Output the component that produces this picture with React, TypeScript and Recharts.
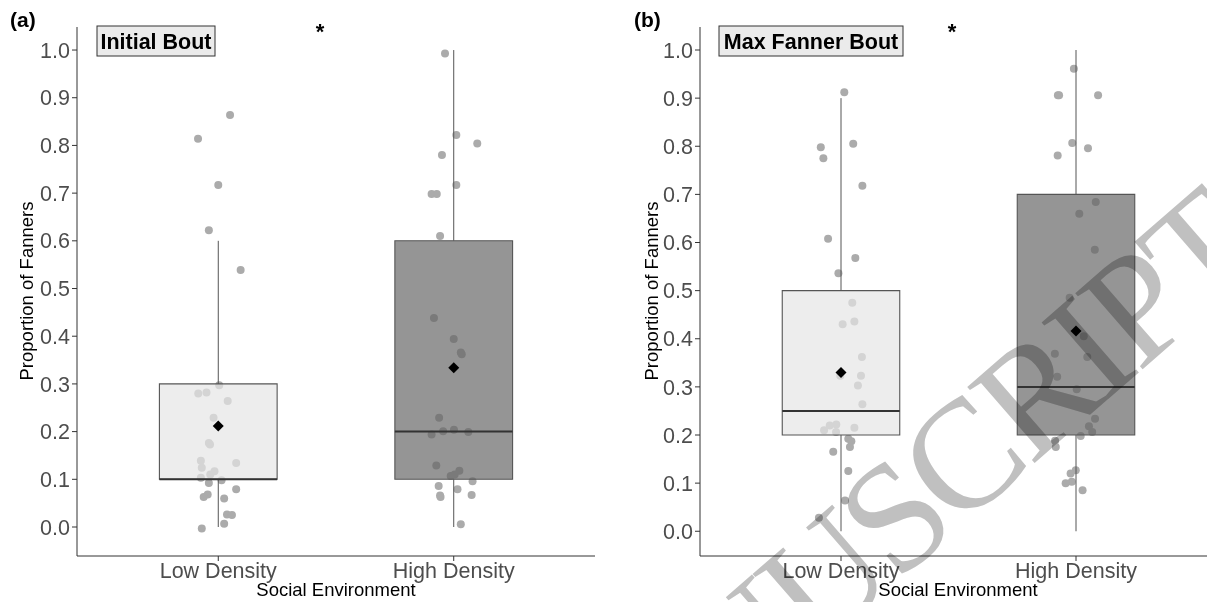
import {
  ComposedChart,
  Scatter,
  XAxis,
  YAxis,
  ReferenceArea,
  ReferenceLine,
} from 'recharts'

const CATEGORIES = ['Low Density', 'High Density']
const Y_TICKS = [0, 0.1, 0.2, 0.3, 0.4, 0.5, 0.6, 0.7, 0.8, 0.9, 1.0]

// box stats per group: [lower whisker, q1, median, q3, upper whisker]
const INITIAL_LOW_BOX = [0, 0.1, 0.1, 0.3, 0.6]
const INITIAL_HIGH_BOX = [0, 0.1, 0.2, 0.6, 1.0]
const INITIAL_MEANS = [0.212, 0.334]

const MAX_LOW_BOX = [0, 0.2, 0.25, 0.5, 0.9]
const MAX_HIGH_BOX = [0, 0.2, 0.3, 0.7, 1.0]
const MAX_MEANS = [0.33, 0.416]

// raw proportions + horizontal jitter (category units)
const INITIAL_LOW_VALUES = [0.864, 0.814, 0.717, 0.622, 0.539, 0.297, 0.28, 0.282, 0.264, 0.229, 0.176, 0.173, 0.139, 0.134, 0.124, 0.117, 0.11, 0.103, 0.098, 0.092, 0.079, 0.068, 0.063, 0.06, 0.026, 0.025, 0.007, -0.003]
const INITIAL_LOW_JITTER = [0.05, -0.086, 0.0, -0.04, 0.095, 0.004, -0.085, -0.05, 0.04, -0.02, -0.04, -0.035, -0.074, 0.076, -0.07, -0.016, -0.034, -0.074, 0.014, -0.04, 0.076, -0.045, -0.062, 0.025, 0.037, 0.058, 0.025, -0.07]
const INITIAL_HIGH_VALUES = [0.993, 0.822, 0.804, 0.78, 0.717, 0.698, 0.698, 0.61, 0.438, 0.394, 0.366, 0.362, 0.229, 0.194, 0.201, 0.204, 0.199, 0.129, 0.118, 0.107, 0.11, 0.096, 0.086, 0.079, 0.066, 0.063, 0.067, 0.006]
const INITIAL_HIGH_JITTER = [-0.037, 0.011, 0.1, -0.05, 0.011, -0.094, -0.072, -0.058, -0.084, 0, 0.03, 0.034, -0.062, -0.094, -0.045, 0.001, 0.062, -0.074, 0.024, -0.013, 0.004, 0.08, -0.064, 0.016, -0.058, -0.056, 0.076, 0.03]

const MAX_LOW_VALUES = [0.912, 0.798, 0.805, 0.775, 0.718, 0.608, 0.568, 0.536, 0.475, 0.436, 0.43, 0.362, 0.323, 0.323, 0.303, 0.264, 0.222, 0.22, 0.215, 0.21, 0.206, 0.192, 0.187, 0.175, 0.165, 0.125, 0.064, 0.028]
const MAX_LOW_JITTER = [0.014, -0.086, 0.052, -0.075, 0.091, -0.055, 0.061, -0.011, 0.048, 0.057, 0.007, 0.089, -0.003, 0.085, 0.072, 0.091, -0.02, -0.048, 0.057, -0.072, -0.021, 0.031, 0.044, 0.038, -0.033, 0.031, 0.017, -0.094]
const MAX_HIGH_VALUES = [0.961, 0.906, 0.906, 0.906, 0.807, 0.796, 0.781, 0.684, 0.66, 0.585, 0.485, 0.405, 0.369, 0.362, 0.321, 0.295, 0.234, 0.218, 0.206, 0.198, 0.188, 0.175, 0.127, 0.12, 0.103, 0.1, 0.085]
const MAX_HIGH_JITTER = [-0.009, -0.077, -0.072, 0.094, -0.016, 0.051, -0.078, 0.084, 0.014, 0.08, -0.027, 0.033, -0.09, 0.048, -0.08, 0.003, 0.081, 0.055, 0.069, 0.02, -0.089, -0.086, -0.001, -0.023, -0.018, -0.044, 0.028]

const FONT = '"Liberation Sans", Arial, Helvetica, sans-serif'
const BOX_FILLS = ['rgb(230,230,230)', 'rgb(99,99,99)']
const BOX_OPACITY = [0.7, 0.68]
const BOX_HALF = 0.25

function PointShape(props: any) {
  return <circle cx={props.cx} cy={props.cy} r={4} fill="#ababab" />
}

function MeanShape(props: any) {
  const { cx, cy } = props
  const r = 5.5
  return (
    <polygon
      points={`${cx},${cy - r} ${cx + r},${cy} ${cx},${cy + r} ${cx - r},${cy}`}
      fill="#000"
    />
  )
}

interface PanelProps {
  left: number
  marginLeft: number
  marginRight: number
  domain: [number, number]
  lowValues: number[]
  lowJitter: number[]
  highValues: number[]
  highJitter: number[]
  boxes: number[][]
  means: number[]
}

function Panel(p: PanelProps) {
  const points = [
    ...p.lowValues.map((v, i) => ({ x: 1 + p.lowJitter[i], y: v })),
    ...p.highValues.map((v, i) => ({ x: 2 + p.highJitter[i], y: v })),
  ]
  const meanPts = p.means.map((m, i) => ({ x: i + 1, y: m }))

  return (
    <div style={{ position: 'absolute', left: p.left, top: 0 }}>
      <ComposedChart
        width={600}
        height={602}
        margin={{ top: 27, right: p.marginRight, bottom: 16, left: p.marginLeft }}
      >
        <XAxis
          type="number"
          dataKey="x"
          domain={[0.4, 2.6]}
          ticks={[1, 2]}
          allowDataOverflow
          height={30}
          tickSize={5}
          tickFormatter={(v: number) => CATEGORIES[Math.round(v) - 1]}
          stroke="#333"
          tick={{ fill: '#4d4d4d', fontSize: 21.5, fontFamily: FONT }}
        />
        <YAxis
          type="number"
          dataKey="y"
          domain={p.domain}
          ticks={Y_TICKS}
          allowDataOverflow
          width={57}
          tickSize={5}
          tickFormatter={(v: number) => v.toFixed(1)}
          stroke="#333"
          tick={{ fill: '#4d4d4d', fontSize: 21.5, fontFamily: FONT }}
        />
        <Scatter data={points} shape={PointShape} isAnimationActive={false} zIndex={100} />
        {p.boxes.map((b, i) => (
          <ReferenceLine
            key={`wl${i}`}
            segment={[{ x: i + 1, y: b[0] }, { x: i + 1, y: b[1] }]}
            stroke="#555"
            strokeWidth={1}
            zIndex={200}
          />
        ))}
        {p.boxes.map((b, i) => (
          <ReferenceLine
            key={`wu${i}`}
            segment={[{ x: i + 1, y: b[3] }, { x: i + 1, y: b[4] }]}
            stroke="#555"
            strokeWidth={1}
            zIndex={200}
          />
        ))}
        {p.boxes.map((b, i) => (
          <ReferenceArea
            key={`box${i}`}
            x1={i + 1 - BOX_HALF}
            x2={i + 1 + BOX_HALF}
            y1={b[1]}
            y2={b[3]}
            fill={BOX_FILLS[i]}
            fillOpacity={BOX_OPACITY[i]}
            stroke="#555"
            strokeWidth={1.1}
            zIndex={300}
          />
        ))}
        {p.boxes.map((b, i) => (
          <ReferenceLine
            key={`med${i}`}
            segment={[{ x: i + 1 - BOX_HALF, y: b[2] }, { x: i + 1 + BOX_HALF, y: b[2] }]}
            stroke="#333"
            strokeWidth={2}
            zIndex={400}
          />
        ))}
        <Scatter data={meanPts} shape={MeanShape} isAnimationActive={false} zIndex={700} />
      </ComposedChart>
    </div>
  )
}

function Overlay() {
  const label = { fontFamily: FONT, fontSize: 18.5, fill: '#000' }
  const bold = { fontFamily: FONT, fontWeight: 700, fill: '#000' }
  return (
    <svg
      width={1207}
      height={602}
      style={{ position: 'absolute', left: 0, top: 0, pointerEvents: 'none' }}
    >
      <text x={10} y={27} fontSize={21} {...bold}>(a)</text>
      <text x={634} y={27} fontSize={21} {...bold}>(b)</text>

      <rect x={97} y={26} width={118} height={30} fill="#ebebeb" stroke="#333" strokeWidth={1} />
      <text x={156} y={49} fontSize={21.5} textAnchor="middle" {...bold}>Initial Bout</text>
      <rect x={719} y={26} width={184} height={30} fill="#ebebeb" stroke="#333" strokeWidth={1} />
      <text x={811} y={49} fontSize={21.5} textAnchor="middle" {...bold}>Max Fanner Bout</text>

      <text x={320} y={39} fontSize={22} textAnchor="middle" {...bold}>*</text>
      <text x={952} y={39} fontSize={22} textAnchor="middle" {...bold}>*</text>

      <text x={336} y={596} textAnchor="middle" {...label}>Social Environment</text>
      <text x={958} y={596} textAnchor="middle" {...label}>Social Environment</text>
      <text transform="translate(33,291) rotate(-90)" textAnchor="middle" {...label}>
        Proportion of Fanners
      </text>
      <text transform="translate(658,291) rotate(-90)" textAnchor="middle" {...label}>
        Proportion of Fanners
      </text>
    </svg>
  )
}

function Watermark() {
  return (
    <svg
      width={1207}
      height={602}
      style={{ position: 'absolute', left: 0, top: 0, pointerEvents: 'none', mixBlendMode: 'multiply' }}
    >
      <text
        x={1266}
        y={262}
        transform="rotate(-41, 1266, 262)"
        textAnchor="end"
        fontFamily='"Liberation Serif", "Times New Roman", serif'
        fontSize={155}
        letterSpacing={-6}
        fill="#c0c0c0"
      >
        MANUSCRIPT
      </text>
    </svg>
  )
}

export default function App() {
  return (
    <div
      style={{
        position: 'fixed',
        left: 0,
        top: 0,
        width: 1207,
        height: 602,
        overflow: 'hidden',
        background: '#fff',
        isolation: 'isolate',
      }}
    >
      <Panel
        left={0}
        marginLeft={20}
        marginRight={5}
        domain={[-0.0608, 1.0483]}
        lowValues={INITIAL_LOW_VALUES}
        lowJitter={INITIAL_LOW_JITTER}
        highValues={INITIAL_HIGH_VALUES}
        highJitter={INITIAL_HIGH_JITTER}
        boxes={[INITIAL_LOW_BOX, INITIAL_HIGH_BOX]}
        means={INITIAL_MEANS}
      />
      <Panel
        left={620}
        marginLeft={23}
        marginRight={3}
        domain={[-0.0514, 1.0478]}
        lowValues={MAX_LOW_VALUES}
        lowJitter={MAX_LOW_JITTER}
        highValues={MAX_HIGH_VALUES}
        highJitter={MAX_HIGH_JITTER}
        boxes={[MAX_LOW_BOX, MAX_HIGH_BOX]}
        means={MAX_MEANS}
      />
      <Overlay />
      <Watermark />
    </div>
  )
}
